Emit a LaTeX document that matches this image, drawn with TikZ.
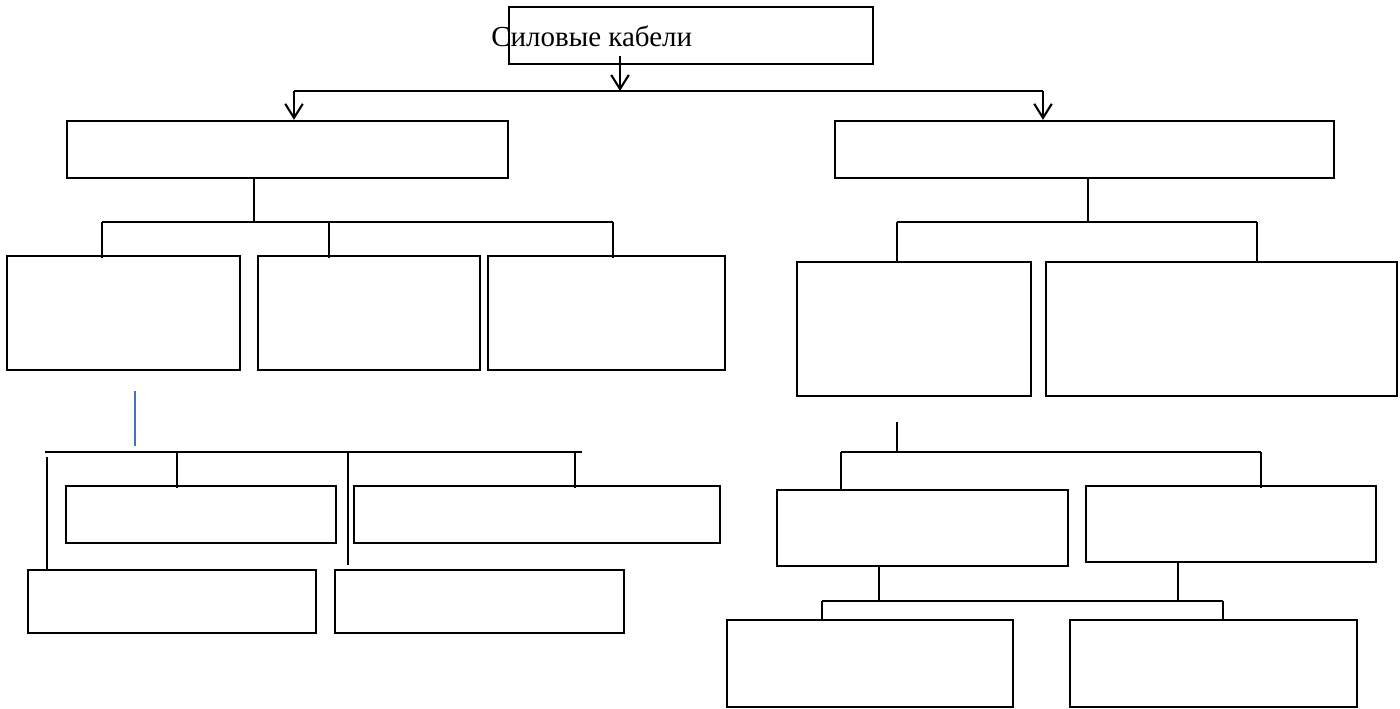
\documentclass[tikz,border=0pt]{standalone}
\usepackage{fontspec}
\setmainfont{Liberation Serif}
\usepackage{tikz}
\usetikzlibrary{positioning,fit}
\usetikzlibrary{arrows.meta}
\definecolor{wordblue}{RGB}{68,114,196}
\tikzset{box/.style={draw,line width=1.3pt,inner sep=0pt},
  link/.style={line width=1.2pt},
  drop/.style={link,shorten >=-1.7pt}}

\begin{document}
\begin{tikzpicture}[x=0.02cm,y=-0.02cm,>={Straight Barb[length=8pt,width=10pt]}]
  \useasboundingbox (0,0) rectangle (1400,709);
  % title
  \node[box,fit={(509,7) (873,64)}] (cab) {};
  \node[anchor=base west,inner sep=0pt,font=\fontsize{16.5}{19}\selectfont] (cabtxt) at (491,47) {Силовые кабели};
  % first split
  \coordinate (t0) at (620,56);
  \coordinate (t1) at (620,91);
  \coordinate (ta) at (294,91);
  \coordinate (tb) at (1043,91);
  \node[box,fit={(67,121) (508,178)}] (lv) {};
  \node[box,fit={(835,121) (1334,178)}] (hv) {};
  \draw[link,->] (t0) -- (t1);
  \draw[link] (ta) -- (tb);
  \draw[link,->] (ta) -- (ta |- lv.north);
  \draw[link,->] (tb) -- (tb |- hv.north);
  % left branch, three boxes
  \node[box,fit={(7,256) (240,370)}] (lv1) {};
  \node[box,fit={(258,256) (480,370)}] (lv2) {};
  \node[box,fit={(488,256) (725,370)}] (lv3) {};
  \coordinate (l0) at (254,222);
  \coordinate (la) at (102,222);
  \coordinate (lb) at (329,222);
  \coordinate (lc) at (613,222);
  \draw[link] (l0 |- lv.south) -- (l0);
  \draw[link] (la) -- (lc);
  \draw[drop] (la) -- (la |- lv1.north);
  \draw[drop] (lb) -- (lb |- lv2.north);
  \draw[drop] (lc) -- (lc |- lv3.north);
  % right branch, two boxes
  \node[box,fit={(797,262) (1031,396)}] (hv1) {};
  \node[box,fit={(1046,262) (1397,396)}] (hv2) {};
  \coordinate (r0) at (1088,222);
  \coordinate (ra) at (897,222);
  \coordinate (rb) at (1257,222);
  \draw[link] (r0 |- hv.south) -- (r0);
  \draw[link] (ra) -- (rb);
  \draw[link] (ra) -- (ra |- hv1.north);
  \draw[link] (rb) -- (rb |- hv2.north);
  % blue stroke
  \coordinate (u0) at (135,391);
  \coordinate (u1) at (135,446);
  \draw[wordblue,line width=0.6pt] (u0) -- (u1);
  % left lower group
  \node[box,fit={(66,486) (336,543)}] (ld1) {};
  \node[box,fit={(354,486) (720,543)}] (ld2) {};
  \node[box,fit={(28,570) (316,633)}] (ld3) {};
  \node[box,fit={(335,570) (624,633)}] (ld4) {};
  \coordinate (m0) at (45,452);
  \coordinate (m1) at (582,452);
  \coordinate (ma) at (47,457);
  \coordinate (mb) at (177,452);
  \coordinate (mc) at (348,452);
  \coordinate (mc1) at (348,565);
  \coordinate (md) at (575,452);
  \draw[link] (m0) -- (m1);
  \draw[link] (ma) -- (ma |- ld3.north);
  \draw[drop] (mb) -- (mb |- ld1.north);
  \draw[link] (mc) -- (mc1);
  \draw[drop] (md) -- (md |- ld2.north);
  % right lower group
  \node[box,fit={(777,490) (1068,566)}] (hd1) {};
  \node[box,fit={(1086,486) (1376,562)}] (hd2) {};
  \node[box,fit={(727,620) (1013,707)}] (hd3) {};
  \node[box,fit={(1070,620) (1357,707)}] (hd4) {};
  \coordinate (n0) at (897,422);
  \coordinate (n1) at (897,452);
  \coordinate (na) at (841,452);
  \coordinate (nb) at (1261,452);
  \draw[link] (n0) -- (n1);
  \draw[link] (na) -- (nb);
  \draw[link] (na) -- (na |- hd1.north);
  \draw[drop] (nb) -- (nb |- hd2.north);
  \coordinate (k0) at (879,601);
  \coordinate (k1) at (1178,601);
  \coordinate (ka) at (822,601);
  \coordinate (kb) at (1223,601);
  \draw[link] (k0 |- hd1.south) -- (k0);
  \draw[link] (k1 |- hd2.south) -- (k1);
  \draw[link] (ka) -- (kb);
  \draw[link] (ka) -- (ka |- hd3.north);
  \draw[link] (kb) -- (kb |- hd4.north);
\end{tikzpicture}
\end{document}
